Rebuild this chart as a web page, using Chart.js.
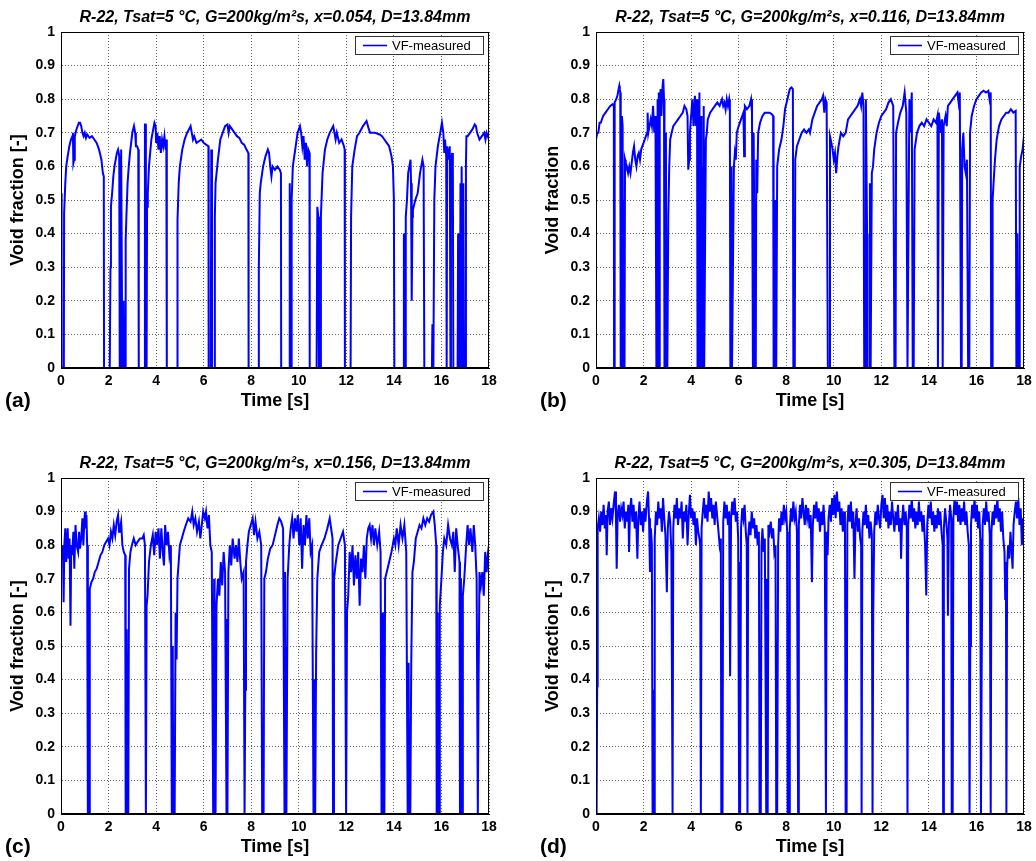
<!DOCTYPE html>
<html>
<head>
<meta charset="utf-8">
<script src="https://cdn.jsdelivr.net/npm/chart.js@4.4.1/dist/chart.umd.min.js"></script>
<style>
html, body { margin: 0; padding: 0; background: #fff; overflow: hidden; width: 1036px; height: 861px; }
.panel { position: absolute; width: 518px; height: 430px; }
</style>
</head>
<body>
<div class="panel" style="left:0;top:0"><canvas id="chart-a" width="518" height="430"></canvas></div>
<div class="panel" style="left:535px;top:0"><canvas id="chart-b" width="518" height="430"></canvas></div>
<div class="panel" style="left:0;top:446px"><canvas id="chart-c" width="518" height="430"></canvas></div>
<div class="panel" style="left:535px;top:446px"><canvas id="chart-d" width="518" height="430"></canvas></div>
<script>
// tick labels
const xTicks = [0, 2, 4, 6, 8, 10, 12, 14, 16, 18]
const yTicks = [0, 0.1, 0.2, 0.3, 0.4, 0.5, 0.6, 0.7, 0.8, 0.9, 1]

const titles = [
    'R-22, Tsat=5 \u00B0C, G=200kg/m\u00B2s, x=0.054, D=13.84mm',
    'R-22, Tsat=5 \u00B0C, G=200kg/m\u00B2s, x=0.116, D=13.84mm',
    'R-22, Tsat=5 \u00B0C, G=200kg/m\u00B2s, x=0.156, D=13.84mm',
    'R-22, Tsat=5 \u00B0C, G=200kg/m\u00B2s, x=0.305, D=13.84mm'
]
const yLabels = ['Void fraction [-]', 'Void fraction', 'Void fraction [-]', 'Void fraction [-]']
const letters = ['(a)', '(b)', '(c)', '(d)']
const seriesName = 'VF-measured'

/* void fraction traces, [time s, void fraction] */
const vfA = [
[0,0.45],[0.02,0.52],[0.03,0],[0.12,0],[0.13,0.46],[0.18,0.55],[0.22,0.6],[0.28,0.63],[0.35,0.66],[0.42,0.68],[0.48,0.69],[0.5,0.7],[0.52,0.61],[0.55,0.62],[0.58,0.69],[0.65,0.71],[0.75,0.73],[0.8,0.73],[0.85,0.72],[0.9,0.7],[0.95,0.69],[1.0,0.7],[1.05,0.685],[1.1,0.695],[1.2,0.685],[1.3,0.69],[1.4,0.68],[1.5,0.67],[1.6,0.65],[1.7,0.62],[1.76,0.58],[1.8,0.57],[1.81,0],
[2.05,0],[2.08,0.3],[2.1,0.48],[2.15,0.52],[2.2,0.57],[2.25,0.6],[2.3,0.62],[2.35,0.64],[2.4,0.65],[2.45,0.63],[2.47,0],[2.52,0],[2.53,0.65],[2.56,0.65],[2.58,0],[2.62,0],[2.63,0.2],[2.65,0],[2.7,0],[2.72,0.38],[2.75,0.45],[2.8,0.55],[2.85,0.6],[2.9,0.64],[2.95,0.67],[3.0,0.7],[3.07,0.72],[3.12,0.7],[3.15,0.66],[3.2,0.66],[3.25,0.65],[3.27,0],
[3.52,0],[3.53,0.725],[3.56,0.725],[3.57,0],[3.6,0],[3.62,0.48],[3.65,0.52],[3.7,0.6],[3.75,0.64],[3.8,0.68],[3.85,0.7],[3.93,0.73],[3.98,0.72],[4.0,0.67],[4.05,0.7],[4.1,0.65],[4.15,0.69],[4.2,0.64],[4.25,0.68],[4.3,0.66],[4.35,0.69],[4.4,0.65],[4.43,0.68],[4.45,0],
[4.88,0],[4.9,0.44],[4.95,0.55],[5.0,0.6],[5.1,0.65],[5.2,0.68],[5.3,0.7],[5.38,0.71],[5.45,0.72],[5.5,0.7],[5.55,0.68],[5.6,0.69],[5.7,0.67],[5.8,0.675],[5.9,0.68],[6.0,0.67],[6.1,0.665],[6.2,0.66],[6.21,0],[6.3,0],[6.32,0.65],[6.35,0],[6.45,0],
[6.47,0.45],[6.5,0.55],[6.6,0.62],[6.7,0.68],[6.8,0.7],[6.9,0.72],[7.0,0.725],[7.05,0.7],[7.1,0.72],[7.2,0.71],[7.3,0.7],[7.4,0.69],[7.5,0.685],[7.6,0.67],[7.7,0.665],[7.8,0.65],[7.88,0.64],[7.89,0],
[8.3,0],[8.32,0.3],[8.36,0.52],[8.4,0.55],[8.5,0.6],[8.6,0.63],[8.7,0.65],[8.75,0.64],[8.8,0.6],[8.85,0.57],[8.9,0.6],[9.0,0.59],[9.1,0.6],[9.2,0.59],[9.25,0.58],[9.26,0],
[9.6,0],[9.62,0.55],[9.64,0],[9.68,0],[9.7,0.5],[9.75,0.6],[9.85,0.65],[9.95,0.7],[10.05,0.72],[10.1,0.7],[10.15,0.66],[10.2,0.69],[10.25,0.62],[10.3,0.67],[10.35,0.6],[10.4,0.65],[10.45,0.64],[10.46,0],
[10.75,0],[10.78,0.48],[10.82,0.45],[10.85,0],[10.9,0],[10.93,0.45],[11.0,0.58],[11.1,0.65],[11.2,0.68],[11.3,0.7],[11.45,0.72],[11.5,0.7],[11.55,0.68],[11.6,0.7],[11.7,0.67],[11.8,0.68],[11.9,0.66],[11.93,0.65],[11.94,0],
[12.18,0],[12.2,0.45],[12.25,0.6],[12.35,0.65],[12.45,0.69],[12.55,0.7],[12.7,0.72],[12.85,0.735],[12.95,0.71],[13.0,0.7],[13.2,0.7],[13.4,0.695],[13.5,0.69],[13.6,0.68],[13.7,0.67],[13.8,0.66],[13.9,0.63],[13.96,0.6],[14.0,0.5],[14.02,0],
[14.4,0],[14.42,0.4],[14.44,0],[14.47,0],[14.5,0.45],[14.55,0.5],[14.6,0.58],[14.65,0.6],[14.7,0.62],[14.72,0.55],[14.75,0.2],[14.78,0.45],[14.8,0.47],[14.9,0.5],[15.0,0.52],[15.1,0.58],[15.2,0.62],[15.25,0.6],[15.28,0],
[15.6,0],[15.62,0.13],[15.64,0],[15.66,0],[15.7,0.5],[15.75,0.6],[15.85,0.66],[15.95,0.7],[16.02,0.73],[16.08,0.7],[16.12,0.64],[16.15,0.68],[16.2,0.63],[16.22,0],[16.24,0.66],[16.3,0.62],[16.35,0.66],[16.38,0],[16.4,0.61],[16.45,0.64],[16.48,0.6],[16.5,0],
[16.68,0],[16.7,0.4],[16.72,0],[16.78,0],[16.8,0.55],[16.82,0],[16.85,0.6],[16.88,0],[16.92,0.55],[16.95,0],[17.0,0],[17.03,0.6],[17.05,0.69],[17.1,0.69],[17.2,0.7],[17.3,0.71],[17.4,0.725],[17.45,0.72],[17.5,0.7],[17.6,0.68],[17.7,0.69],[17.8,0.7],[17.85,0.68],[17.9,0.7],[18,0.68]
]

const vfB = [
[0,0.68],[0.05,0.7],[0.1,0.7],[0.15,0.73],[0.2,0.73],[0.3,0.75],[0.4,0.76],[0.5,0.77],[0.6,0.78],[0.7,0.785],[0.75,0.78],[0.76,0],[0.78,0],[0.79,0.79],[0.85,0.8],[0.9,0.81],[0.95,0.83],[0.98,0.84],[1.0,0.83],[1.02,0.82],[1.04,0],[1.07,0],[1.09,0.75],[1.12,0.72],[1.14,0],[1.17,0],[1.18,0.5],[1.2,0],
[1.22,0.62],[1.25,0.61],[1.3,0.6],[1.35,0.58],[1.4,0.6],[1.45,0.58],[1.5,0.61],[1.55,0.64],[1.6,0.66],[1.65,0.62],[1.7,0.6],[1.75,0.63],[1.8,0.64],[1.85,0.62],[1.9,0.65],[2.0,0.67],[2.05,0.68],[2.1,0.69],[2.15,0.7],[2.17,0.76],[2.2,0.7],[2.25,0.72],[2.3,0.74],[2.35,0.72],[2.4,0.78],[2.45,0.7],[2.5,0.75],[2.52,0.4],[2.54,0],[2.57,0],[2.58,0.8],[2.6,0.78],[2.62,0],[2.64,0.82],[2.66,0],[2.68,0.8],[2.72,0.83],[2.75,0.75],[2.8,0.84],[2.83,0.86],[2.86,0.8],[2.88,0],[2.92,0],[2.94,0.7],[2.96,0],[3.0,0],
[3.04,0.45],[3.08,0.6],[3.12,0.68],[3.18,0.7],[3.25,0.72],[3.35,0.73],[3.45,0.74],[3.55,0.75],[3.65,0.76],[3.72,0.78],[3.8,0.77],[3.85,0.75],[3.88,0.59],[3.92,0.62],[3.95,0.7],[4.0,0.75],[4.05,0.8],[4.1,0.72],[4.16,0.81],[4.2,0.72],[4.25,0.8],[4.27,0],[4.3,0.7],[4.32,0],[4.35,0.82],[4.38,0],[4.42,0.75],[4.44,0],[4.48,0.6],[4.5,0],[4.53,0.78],[4.55,0],[4.58,0],
[4.62,0.68],[4.66,0.7],[4.7,0.74],[4.8,0.76],[4.9,0.77],[5.0,0.78],[5.1,0.79],[5.2,0.78],[5.3,0.8],[5.35,0.78],[5.4,0.79],[5.45,0.77],[5.5,0.8],[5.55,0.78],[5.6,0.8],[5.63,0.78],[5.65,0],[5.7,0.6],[5.72,0],[5.76,0],
[5.8,0.6],[5.84,0.64],[5.88,0.62],[5.92,0.7],[6.0,0.72],[6.1,0.74],[6.2,0.76],[6.23,0.63],[6.26,0.78],[6.35,0.77],[6.45,0.78],[6.52,0.8],[6.56,0.76],[6.6,0],[6.63,0.7],[6.66,0.4],[6.68,0],[6.72,0],[6.74,0.62],[6.78,0.52],[6.82,0.7],[6.9,0.73],[7.0,0.75],[7.1,0.76],[7.2,0.76],[7.3,0.76],[7.4,0.755],[7.45,0.75],[7.47,0],[7.52,0],[7.54,0.5],[7.58,0],
[7.62,0.6],[7.7,0.65],[7.8,0.68],[7.88,0.72],[7.95,0.77],[8.05,0.8],[8.15,0.83],[8.22,0.835],[8.28,0.83],[8.3,0],[8.36,0],
[8.38,0.62],[8.45,0.66],[8.55,0.68],[8.65,0.7],[8.75,0.71],[8.85,0.7],[8.95,0.71],[9.0,0.7],[9.1,0.74],[9.2,0.76],[9.3,0.78],[9.4,0.79],[9.5,0.8],[9.55,0.81],[9.6,0.76],[9.65,0.8],[9.7,0.79],[9.75,0],[9.8,0],
[9.84,0.69],[9.9,0.67],[9.95,0.65],[10.0,0.62],[10.05,0.64],[10.1,0.58],[10.15,0.63],[10.2,0.66],[10.3,0.7],[10.4,0.69],[10.5,0.7],[10.6,0.74],[10.7,0.75],[10.8,0.76],[10.9,0.77],[11.0,0.78],[11.1,0.8],[11.15,0.78],[11.2,0.82],[11.25,0.78],[11.28,0],[11.32,0],[11.35,0.8],[11.4,0.4],[11.42,0],[11.5,0],[11.52,0.55],[11.55,0],
[11.6,0.58],[11.65,0.6],[11.7,0.65],[11.8,0.7],[11.9,0.73],[12.0,0.75],[12.1,0.76],[12.2,0.77],[12.3,0.79],[12.4,0.8],[12.5,0.78],[12.55,0],[12.6,0],
[12.62,0.7],[12.7,0.73],[12.8,0.76],[12.9,0.78],[12.98,0.82],[13.05,0.76],[13.1,0],[13.14,0.4],[13.18,0.8],[13.22,0.7],[13.28,0.82],[13.32,0],[13.36,0],
[13.4,0.65],[13.5,0.7],[13.6,0.72],[13.7,0.73],[13.8,0.72],[13.9,0.74],[14.0,0.73],[14.1,0.72],[14.2,0.74],[14.3,0.73],[14.36,0.75],[14.38,0],[14.42,0.76],[14.5,0.7],[14.55,0.74],[14.58,0],
[14.62,0.72],[14.7,0.75],[14.75,0.72],[14.8,0.78],[14.9,0.79],[15.0,0.8],[15.1,0.81],[15.2,0.82],[15.25,0.79],[15.3,0.82],[15.35,0],[15.38,0],[15.4,0.65],[15.45,0.7],[15.5,0.6],[15.55,0.58],[15.6,0.62],[15.65,0],[15.7,0],
[15.73,0.7],[15.8,0.75],[15.9,0.78],[16.0,0.8],[16.1,0.81],[16.2,0.82],[16.3,0.825],[16.4,0.82],[16.5,0.825],[16.55,0.8],[16.6,0.82],[16.62,0],[16.66,0],
[16.68,0.5],[16.72,0.55],[16.78,0.62],[16.85,0.68],[16.95,0.72],[17.05,0.74],[17.15,0.75],[17.25,0.76],[17.35,0.76],[17.45,0.77],[17.55,0.76],[17.65,0.765],[17.68,0],[17.72,0.4],[17.76,0],[17.8,0],[17.82,0.6],[17.88,0.63],[17.94,0.65],[18,0.69]
]

const vfC = [
[0,0.8],[0.04,0.76],[0.08,0.8],[0.11,0.63],[0.14,0.8],[0.18,0.85],[0.22,0.75],[0.28,0.85],[0.32,0.76],[0.36,0.82],[0.4,0.56],[0.43,0.8],[0.47,0.77],[0.52,0.84],[0.56,0.73],[0.61,0.86],[0.66,0.8],[0.72,0.78],[0.76,0.84],[0.8,0.79],[0.85,0.82],[0.9,0.88],[0.94,0.8],[0.98,0.87],[1.01,0.9],[1.04,0.85],[1.07,0.89],[1.1,0.8],[1.13,0],[1.16,0.43],[1.18,0],
[1.21,0.67],[1.28,0.69],[1.35,0.7],[1.42,0.72],[1.5,0.73],[1.58,0.75],[1.66,0.77],[1.74,0.78],[1.82,0.8],[1.9,0.81],[1.98,0.82],[2.04,0.8],[2.1,0.84],[2.16,0.82],[2.22,0.86],[2.28,0.83],[2.34,0.87],[2.4,0.89],[2.44,0.84],[2.48,0.85],[2.53,0.87],[2.58,0.8],[2.64,0.78],[2.7,0.77],[2.72,0],[2.76,0.55],[2.79,0],[2.83,0],
[2.86,0.73],[2.92,0.78],[2.98,0.8],[3.06,0.82],[3.14,0.8],[3.22,0.81],[3.32,0.82],[3.42,0.82],[3.48,0.83],[3.53,0.8],[3.57,0],
[3.6,0.62],[3.64,0.65],[3.7,0.75],[3.78,0.8],[3.86,0.83],[3.92,0.77],[3.98,0.84],[4.03,0.8],[4.1,0.85],[4.16,0.76],[4.22,0.85],[4.28,0.78],[4.33,0.74],[4.38,0.86],[4.44,0.8],[4.5,0.84],[4.56,0.77],[4.62,0.8],[4.66,0],[4.7,0.5],[4.72,0],[4.78,0],
[4.82,0.6],[4.86,0.46],[4.9,0.7],[4.95,0.75],[5.0,0.8],[5.08,0.82],[5.16,0.84],[5.25,0.86],[5.35,0.88],[5.45,0.87],[5.52,0.9],[5.58,0.86],[5.65,0.88],[5.72,0.84],[5.8,0.87],[5.86,0.82],[5.92,0.86],[5.98,0.9],[6.05,0.88],[6.1,0.9],[6.16,0.85],[6.22,0.89],[6.28,0.8],[6.34,0.78],[6.4,0],[6.44,0.7],[6.46,0],[6.5,0],
[6.54,0.62],[6.6,0.7],[6.66,0.65],[6.72,0.75],[6.78,0.68],[6.84,0.78],[6.9,0.72],[6.96,0],[6.98,0.58],[7.0,0],[7.04,0.72],[7.1,0.8],[7.16,0.74],[7.22,0.82],[7.3,0.76],[7.36,0.8],[7.42,0.75],[7.48,0.82],[7.54,0.75],[7.6,0.7],[7.68,0.72],[7.72,0],[7.75,0.37],
[7.78,0.75],[7.84,0.8],[7.9,0.84],[7.98,0.86],[8.06,0.88],[8.12,0.83],[8.18,0.87],[8.26,0.82],[8.34,0.84],[8.42,0.8],[8.46,0],[8.52,0],
[8.55,0.7],[8.62,0.72],[8.7,0.76],[8.8,0.79],[8.9,0.8],[9.0,0.83],[9.1,0.86],[9.18,0.88],[9.26,0.87],[9.34,0.85],[9.4,0],[9.42,0.72],[9.44,0],[9.46,0.5],[9.48,0],[9.5,0],
[9.53,0.7],[9.6,0.8],[9.66,0.85],[9.72,0.88],[9.78,0.82],[9.84,0.88],[9.9,0.84],[9.96,0.89],[10.02,0.8],[10.08,0.88],[10.14,0.73],[10.2,0.86],[10.26,0.8],[10.32,0.89],[10.38,0.82],[10.44,0.88],[10.5,0.78],[10.56,0.8],[10.62,0],[10.66,0.4],[10.69,0],
[10.73,0.48],[10.78,0.7],[10.86,0.78],[10.96,0.8],[11.08,0.82],[11.2,0.85],[11.3,0.88],[11.38,0.84],[11.42,0.82],[11.44,0],
[11.48,0.7],[11.56,0.75],[11.66,0.8],[11.76,0.82],[11.86,0.84],[11.94,0.8],[11.99,0],
[12.03,0.6],[12.08,0.65],[12.14,0.78],[12.2,0.72],[12.26,0.8],[12.32,0.68],[12.38,0.77],[12.44,0.7],[12.5,0.78],[12.56,0.62],[12.62,0.76],[12.68,0.72],[12.74,0.8],[12.8,0.7],[12.86,0.82],[12.92,0.85],[12.98,0.86],[13.04,0.82],[13.1,0.86],[13.16,0.8],[13.22,0.85],[13.3,0.8],[13.38,0.84],[13.44,0.78],[13.48,0],[13.52,0.6],[13.54,0],[13.6,0],
[13.63,0.7],[13.7,0.72],[13.8,0.75],[13.9,0.78],[14.0,0.82],[14.06,0.8],[14.12,0.85],[14.2,0.8],[14.28,0.86],[14.36,0.82],[14.44,0.86],[14.52,0.78],[14.58,0],[14.62,0.45],[14.64,0],[14.69,0],
[14.73,0.45],[14.78,0.72],[14.84,0.75],[14.92,0.82],[15.0,0.84],[15.08,0.86],[15.16,0.85],[15.24,0.88],[15.32,0.86],[15.4,0.88],[15.48,0.87],[15.56,0.89],[15.66,0.9],[15.72,0.86],[15.78,0.8],[15.8,0],[15.84,0.6],[15.86,0],[15.9,0],
[15.93,0.62],[16.0,0.7],[16.06,0.78],[16.12,0.82],[16.2,0.8],[16.28,0.86],[16.36,0.82],[16.44,0.8],[16.5,0.84],[16.56,0.72],[16.62,0.85],[16.68,0.8],[16.76,0.75],[16.78,0],[16.82,0.7],[16.84,0],[16.88,0],
[16.9,0.65],[16.96,0.7],[17.04,0.8],[17.1,0.86],[17.16,0.8],[17.22,0.85],[17.3,0.78],[17.36,0.86],[17.42,0.8],[17.48,0.7],[17.53,0],[17.56,0.38],[17.6,0.72],[17.66,0.68],[17.72,0.72],[17.78,0.65],[17.84,0.78],[17.9,0.72],[17.96,0.78],[18,0.8]
]

const vfD = [
[0,0.74],[0.02,0.8],[0.03,0],[0.05,0.38],[0.07,0.85],[0.12,0.88],[0.17,0.84],[0.22,0.9],[0.27,0.86],[0.32,0.92],[0.37,0.85],[0.42,0.89],[0.45,0.77],[0.49,0.9],[0.54,0.93],[0.59,0.86],[0.64,0.91],[0.69,0.88],[0.74,0.92],[0.8,0.96],[0.84,0.88],[0.87,0.73],[0.91,0.89],[0.96,0.92],
[1.01,0.87],[1.06,0.91],[1.11,0.89],[1.16,0.93],[1.21,0.85],[1.26,0.9],[1.31,0.87],[1.36,0.92],[1.39,0.78],[1.43,0.9],[1.48,0.94],[1.53,0.87],[1.58,0.92],[1.63,0.85],[1.68,0.9],[1.74,0.76],[1.78,0.88],[1.83,0.93],[1.88,0.86],[1.93,0.9],[1.98,0.84],
[2.03,0.91],[2.08,0.87],[2.14,0.93],[2.19,0.96],[2.23,0.88],[2.27,0.72],[2.31,0.85],[2.35,0.8],[2.38,0],[2.41,0.37],[2.44,0],[2.47,0.82],[2.52,0.9],[2.57,0.86],[2.62,0.93],[2.67,0.88],[2.72,0.91],[2.77,0.84],[2.82,0.94],[2.87,0.88],[2.92,0.83],[2.98,0.66],
[3.02,0.85],[3.07,0.9],[3.12,0.87],[3.17,0.78],[3.22,0],[3.25,0.85],[3.3,0.92],[3.35,0.88],[3.4,0.94],[3.45,0.86],[3.5,0.91],[3.55,0.88],[3.6,0.93],[3.65,0.82],[3.7,0.9],[3.75,0.87],[3.8,0.92],[3.85,0.8],[3.9,0.89],[3.95,0.95],
[4.0,0.88],[4.05,0.91],[4.1,0.86],[4.15,0.9],[4.2,0.8],[4.25,0.88],[4.3,0.84],[4.35,0.82],[4.38,0.8],[4.41,0],[4.44,0.85],[4.49,0.9],[4.54,0.94],[4.59,0.88],[4.64,0.92],[4.69,0.87],[4.74,0.96],[4.79,0.9],[4.84,0.94],[4.89,0.88],[4.94,0.92],[4.99,0.86],
[5.04,0.93],[5.09,0.89],[5.14,0.85],[5.2,0.8],[5.25,0.82],[5.27,0],[5.3,0.5],[5.32,0],[5.35,0.87],[5.4,0.93],[5.45,0.88],[5.5,0.92],[5.55,0.86],[5.6,0.9],[5.64,0.41],[5.68,0.88],[5.73,0.93],[5.78,0.89],[5.83,0.94],[5.88,0.87],[5.93,0.9],[5.98,0.82],
[6.02,0],[6.04,0.75],[6.06,0],[6.1,0.85],[6.15,0.91],[6.2,0.88],[6.25,0.92],[6.3,0.84],[6.34,0.8],[6.37,0],[6.4,0.82],[6.45,0.87],[6.5,0.83],[6.55,0.9],[6.6,0.85],[6.65,0.88],[6.7,0.82],[6.75,0.86],[6.8,0.8],[6.85,0.84],[6.88,0],[6.9,0.42],[6.93,0],[6.96,0.8],
[7.0,0.85],[7.05,0.78],[7.1,0.82],[7.16,0],[7.19,0.7],[7.22,0],[7.25,0.86],[7.3,0.84],[7.35,0.87],[7.4,0.82],[7.45,0.85],[7.5,0.78],[7.55,0.8],[7.58,0],[7.6,0.4],[7.62,0],[7.66,0.8],[7.7,0.88],[7.75,0.84],[7.8,0.9],[7.85,0.86],[7.9,0.92],[7.95,0.88],
[8.0,0.9],[8.04,0.84],[8.06,0],[8.09,0.6],[8.12,0],[8.15,0.85],[8.2,0.91],[8.25,0.87],[8.3,0.93],[8.35,0.88],[8.4,0.9],[8.45,0.84],[8.5,0],[8.53,0.86],[8.58,0.92],[8.63,0.88],[8.68,0.94],[8.73,0.9],[8.78,0.86],[8.83,0.92],[8.88,0.88],[8.93,0.91],[8.98,0.85],
[9.03,0.89],[9.08,0.69],[9.12,0.86],[9.17,0.92],[9.22,0.88],[9.27,0.93],[9.32,0.87],[9.37,0.91],[9.42,0.84],[9.47,0.9],[9.52,0.86],[9.57,0.92],[9.62,0.85],[9.67,0],[9.7,0.84],[9.74,0.77],[9.78,0.88],[9.83,0.92],[9.88,0.87],[9.93,0.94],[9.98,0.89],
[10.03,0.95],[10.08,0.88],[10.13,0.96],[10.18,0.9],[10.23,0.93],[10.28,0.86],[10.33,0.91],[10.38,0.84],[10.43,0.9],[10.47,0.86],[10.5,0],[10.52,0.7],[10.54,0],[10.57,0.86],[10.62,0.92],[10.67,0.87],[10.72,0.93],[10.77,0.85],[10.82,0.9],[10.87,0.7],[10.91,0.86],[10.96,0.91],
[11.01,0.84],[11.06,0.88],[11.11,0.82],[11.15,0.8],[11.17,0],[11.2,0.84],[11.25,0.9],[11.3,0.86],[11.35,0.92],[11.4,0.85],[11.45,0.89],[11.5,0.82],[11.55,0.87],[11.6,0.83],[11.63,0],[11.66,0.6],[11.7,0.84],[11.75,0.9],[11.8,0.86],[11.85,0.92],[11.9,0.88],[11.95,0.85],
[12.0,0.92],[12.05,0.95],[12.1,0.88],[12.15,0.94],[12.2,0.87],[12.25,0.92],[12.3,0.85],[12.35,0.9],[12.4,0.86],[12.45,0.93],[12.5,0.88],[12.55,0.84],[12.6,0.9],[12.65,0.86],[12.7,0.92],[12.75,0.84],[12.8,0.88],[12.83,0.76],[12.87,0.87],[12.92,0.92],[12.97,0.86],
[13.02,0.9],[13.07,0.85],[13.1,0],[13.13,0.86],[13.18,0.92],[13.23,0.88],[13.28,0.94],[13.33,0.87],[13.38,0.91],[13.43,0.85],[13.48,0.9],[13.53,0.86],[13.58,0.93],[13.63,0.87],[13.68,0.9],[13.73,0.84],[13.78,0.89],[13.84,0.8],[13.89,0.65],[13.93,0.86],[13.98,0.92],
[14.03,0.88],[14.08,0.93],[14.13,0.86],[14.18,0.9],[14.23,0.84],[14.28,0.89],[14.33,0.85],[14.38,0.91],[14.43,0.86],[14.48,0.9],[14.53,0.84],[14.58,0.8],[14.6,0],[14.63,0.85],[14.68,0.91],[14.73,0.87],[14.78,0.82],[14.8,0.59],[14.84,0.86],[14.89,0.92],[14.94,0.88],[14.96,0],[14.98,0.5],
[15.0,0],[15.03,0.88],[15.08,0.94],[15.13,0.89],[15.18,0.93],[15.23,0.87],[15.28,0.92],[15.33,0.86],[15.38,0.91],[15.43,0.87],[15.48,0.93],[15.53,0.86],[15.58,0.9],[15.63,0.84],[15.68,0.8],[15.71,0],[15.74,0.5],[15.77,0.86],[15.82,0.92],[15.87,0.88],[15.92,0.94],[15.97,0.87],
[16.02,0.92],[16.07,0.85],[16.12,0.9],[16.16,0.82],[16.19,0],[16.22,0.43],[16.26,0.86],[16.31,0.91],[16.36,0.86],[16.41,0.93],[16.46,0.87],[16.51,0.9],[16.56,0.83],[16.6,0],[16.63,0.84],[16.68,0.9],[16.73,0.86],[16.78,0.92],[16.83,0.88],[16.88,0.94],[16.93,0.87],[16.98,0.91],
[17.03,0.84],[17.08,0.9],[17.13,0.82],[17.18,0.78],[17.21,0.64],[17.24,0.75],[17.26,0],[17.29,0.73],[17.33,0.8],[17.38,0.76],[17.43,0.84],[17.48,0.78],[17.52,0.73],[17.56,0.86],[17.61,0.9],[17.66,0.93],[17.71,0.88],[17.76,0.94],[17.81,0.86],[17.86,0.91],[17.91,0.8],[17.96,0.88],[18,0.86]
]

const FONT = '"Liberation Sans", Arial, Helvetica, sans-serif'
Chart.defaults.font.family = FONT
Chart.defaults.color = '#000'

// box round the plot, the legend box and the panel letter
const panelDecor = {
    id: 'panelDecor',
    afterDraw(chart, args, opts) {
        const ctx = chart.ctx
        const a = chart.chartArea
        ctx.save()
        ctx.strokeStyle = '#000'
        ctx.lineWidth = 1
        ctx.strokeRect(a.left + 0.5, a.top + 0.5, a.right - a.left - 1, a.bottom - a.top - 1)

        const bw = 128, bh = 18
        const bx = Math.round(a.right - 134), by = Math.round(a.top + 4)
        ctx.fillStyle = '#fff'
        ctx.fillRect(bx, by, bw, bh)
        ctx.strokeStyle = '#333'
        ctx.strokeRect(bx + 0.5, by + 0.5, bw, bh)
        ctx.strokeStyle = '#0000ff'
        ctx.lineWidth = 1.6
        ctx.beginPath()
        ctx.moveTo(bx + 8, by + 9.5)
        ctx.lineTo(bx + 32, by + 9.5)
        ctx.stroke()
        ctx.fillStyle = '#000'
        ctx.font = '13px ' + FONT
        ctx.textBaseline = 'middle'
        ctx.fillText(opts.label, bx + 37, by + 10)

        ctx.font = 'bold 21px ' + FONT
        ctx.fillText(opts.letter, 5, 401)
        ctx.restore()
    }
}

const gridStyle = { color: 'rgba(0,0,0,0.6)', lineWidth: 1, drawTicks: false }
const borderStyle = { display: true, color: '#000', width: 1, dash: [1, 2] }

function makePanel(id, series, idx) {
    new Chart(document.getElementById(id), {
        type: 'line',
        data: {
            datasets: [{
                label: seriesName,
                data: series.map(p => ({ x: p[0], y: p[1] })),
                borderColor: '#0000ff',
                borderWidth: 2,
                pointRadius: 0,
                fill: false,
                tension: 0
            }]
        },
        options: {
            responsive: false,
            animation: false,
            devicePixelRatio: 1,
            parsing: false,
            layout: { padding: { left: 0, right: 29, top: 0, bottom: 0 } },
            plugins: {
                legend: { display: false },
                tooltip: { enabled: false },
                title: {
                    display: true,
                    text: titles[idx],
                    fullSize: false,
                    color: '#000',
                    font: { size: 16, weight: 'bold', style: 'italic' },
                    padding: { top: 8, bottom: 4.8 }
                },
                panelDecor: { letter: letters[idx], label: seriesName }
            },
            scales: {
                x: {
                    type: 'linear',
                    min: 0,
                    max: 18,
                    afterBuildTicks: s => { s.ticks = xTicks.map(v => ({ value: v })) },
                    afterFit: s => { s.height = 62 },
                    grid: gridStyle,
                    border: borderStyle,
                    ticks: { color: '#000', padding: 5, maxRotation: 0, font: { size: 14, weight: 'bold' }, callback: v => String(v) },
                    title: {
                        display: true,
                        text: 'Time [s]',
                        color: '#000',
                        font: { size: 18, weight: 'bold' },
                        padding: { top: 0, bottom: 18 }
                    }
                },
                y: {
                    type: 'linear',
                    min: 0,
                    max: 1,
                    afterBuildTicks: s => { s.ticks = yTicks.map(v => ({ value: v })) },
                    afterFit: s => { s.width = 61 },
                    grid: gridStyle,
                    border: borderStyle,
                    ticks: { color: '#000', padding: 6, font: { size: 14, weight: 'bold' }, callback: v => String(v) },
                    title: {
                        display: true,
                        text: yLabels[idx],
                        color: '#000',
                        font: { size: 18, weight: 'bold' },
                        padding: { top: 7, bottom: 0 }
                    }
                }
            }
        },
        plugins: [panelDecor]
    })
}

makePanel('chart-a', vfA, 0)
makePanel('chart-b', vfB, 1)
makePanel('chart-c', vfC, 2)
makePanel('chart-d', vfD, 3)
</script>
</body>
</html>
